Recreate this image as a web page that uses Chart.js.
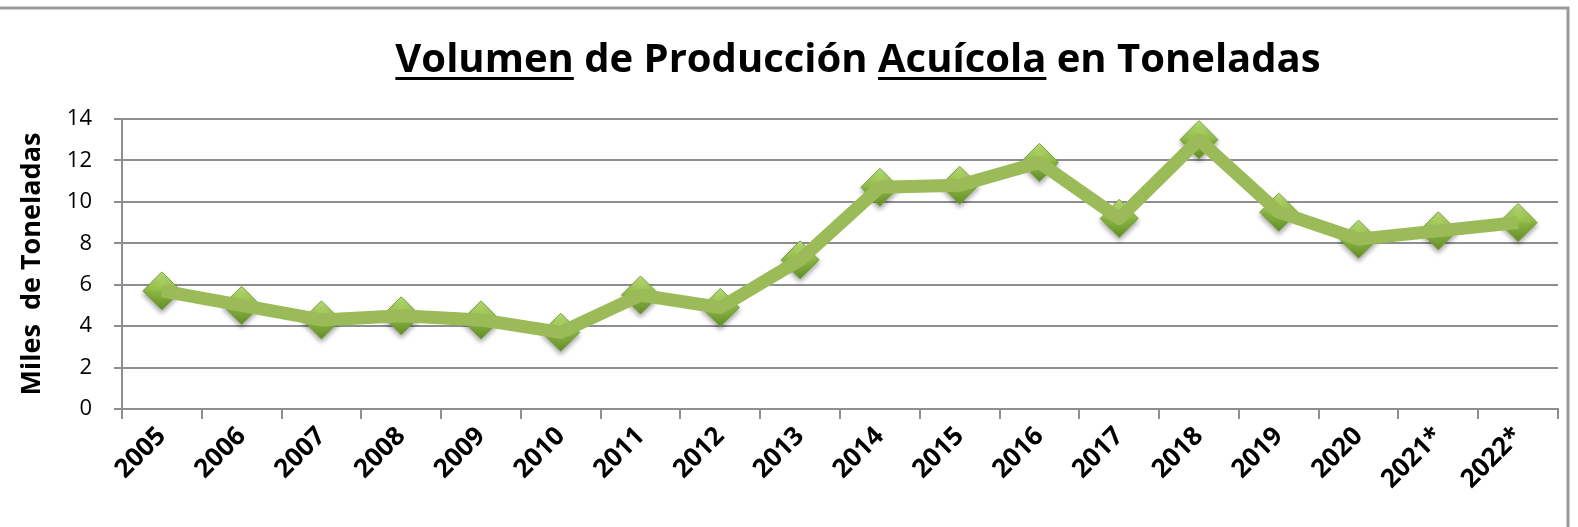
<!DOCTYPE html>
<html>
<head>
<meta charset="utf-8">
<script src="https://cdn.jsdelivr.net/npm/chart.js@4"></script>
<style>
  body { margin: 0; background: #fff; }
</style>
</head>
<body>
<canvas id="chart" width="1578" height="527"></canvas>
<script>
const years = ['2005', '2006', '2007', '2008', '2009', '2010', '2011', '2012', '2013',
               '2014', '2015', '2016', '2017', '2018', '2019', '2020', '2021*', '2022*'];
const volumen = [5.7, 5.0, 4.3, 4.5, 4.3, 3.7, 5.5, 4.9, 7.2,
                 10.7, 10.8, 11.9, 9.2, 13.0, 9.5, 8.2, 8.6, 9.0];
const yMin = 0;
const yMax = 14;
const yStep = 2;
const titleParts = [['Volumen', true], [' de Producción ', false], ['Acuícola', true], [' en Toneladas', false]];
const yTitle = 'Miles  de Toneladas';

const GRID = '#8e8e8e';
const GREEN = '#9bbb59';

// titulo con subrayado + marco del grafico
const decoPlugin = {
  id: 'deco',
  afterDraw(chart) {
    const c = chart.ctx;
    c.save();
    c.font = 'bold 40px "Open Sans"';
    c.fillStyle = '#000';
    c.textBaseline = 'alphabetic';
    let total = 0;
    for (const p of titleParts) total += c.measureText(p[0]).width;
    let x = 858 - total / 2;
    const base = 72;
    for (const p of titleParts) {
      const w = c.measureText(p[0]).width;
      c.fillText(p[0], x, base);
      if (p[1]) c.fillRect(x, base + 5, w, 3);
      x += w;
    }
    c.strokeStyle = '#9a9a9a';
    c.lineWidth = 3;
    c.beginPath();
    c.moveTo(0, 8);
    c.lineTo(1568, 8);
    c.lineTo(1568, 527);
    c.stroke();
    c.restore();
  }
};

// sombra solo para los rombos
const shadowPlugin = {
  id: 'pshadow',
  beforeDatasetDraw(chart, args) {
    if (args.index !== 1) return;
    const c = chart.ctx;
    c.save();
    c.shadowColor = 'rgba(0,0,0,0.35)';
    c.shadowBlur = 5;
    c.shadowOffsetY = 3;
  },
  afterDatasetDraw(chart, args) {
    if (args.index !== 1) return;
    chart.ctx.restore();
  }
};

function diamondFill(ctx) {
  const chart = ctx.chart;
  if (!chart.chartArea || !ctx.parsed) return '#8cb543';
  const y = chart.scales.y.getPixelForValue(ctx.parsed.y);
  const g = chart.ctx.createLinearGradient(0, y - 19, 0, y + 19);
  g.addColorStop(0, '#bfe27a');
  g.addColorStop(0.45, '#97c24d');
  g.addColorStop(0.55, '#86b23f');
  g.addColorStop(1, '#648f2a');
  return g;
}

new Chart(document.getElementById('chart'), {
  type: 'line',
  data: {
    labels: years,
    datasets: [{
      data: volumen,
      borderColor: GREEN,
      borderWidth: 13,
      pointRadius: 0,
      pointHoverRadius: 0,
      tension: 0,
      borderJoinStyle: 'round'
    }, {
      data: volumen,
      showLine: false,
      pointStyle: 'rectRot',
      pointRadius: 19,
      pointHoverRadius: 19,
      pointBackgroundColor: diamondFill,
      pointBorderColor: '#78a03a',
      pointBorderWidth: 1
    }]
  },
  options: {
    responsive: false,
    animation: false,
    events: [],
    layout: { padding: { top: 119, right: 20, left: 0, bottom: 0 } },
    plugins: {
      legend: { display: false },
      title: { display: false },
      tooltip: { enabled: false }
    },
    scales: {
      x: {
        offset: true,
        grid: {
          offset: true,
          drawOnChartArea: false,
          drawTicks: true,
          tickLength: 10,
          color: GRID,
          lineWidth: 2
        },
        border: { color: GRID, width: 2 },
        ticks: {
          color: '#000',
          font: { family: '"Open Sans"', size: 26, weight: 'bold' },
          maxRotation: 45,
          minRotation: 45,
          padding: 2,
          autoSkip: false
        },
        afterFit(scale) { scale.height = 527 - 409; }
      },
      y: {
        min: yMin,
        max: yMax,
        ticks: {
          stepSize: yStep,
          color: '#000',
          font: { family: '"Open Sans"', size: 22 },
          padding: 22
        },
        grid: {
          color: GRID,
          lineWidth: 2,
          tickLength: 8
        },
        border: { color: GRID, width: 2 },
        title: {
          display: true,
          text: yTitle,
          color: '#000',
          font: { family: '"Open Sans"', size: 27, weight: 'bold' },
          padding: { top: 16, bottom: 4 }
        },
        afterFit(scale) { scale.width = 122; }
      }
    }
  },
  plugins: [decoPlugin, shadowPlugin]
});
</script>
</body>
</html>
